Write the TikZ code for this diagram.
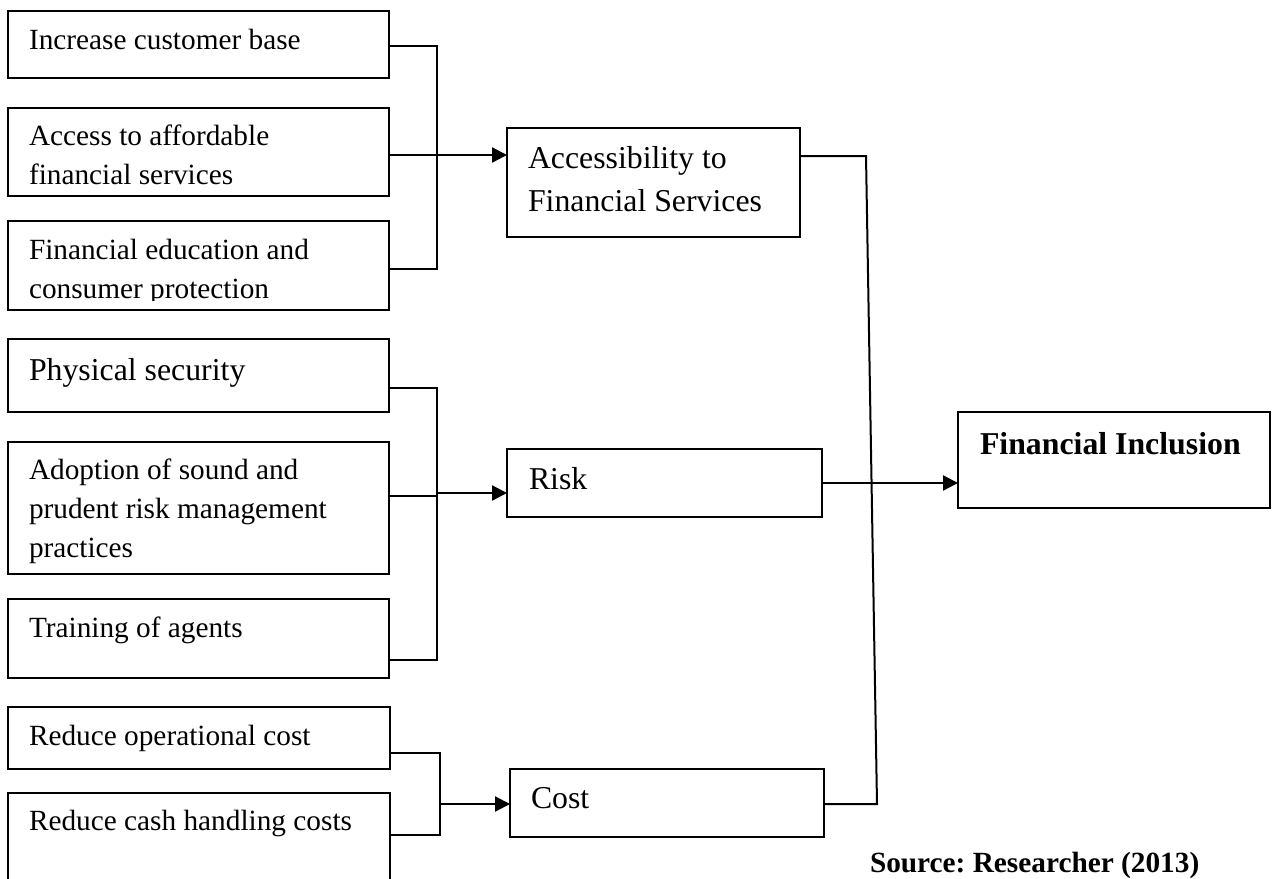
\documentclass[tikz,border=0pt]{standalone}
\usepackage{fontspec}
\setmainfont{Liberation Serif}
\usetikzlibrary{arrows.meta}
\frenchspacing
\newcommand{\mlines}[1]{\parbox[t]{420pt}{\raggedright #1}}
\tikzset{
  box/.style={draw, line width=2pt, rectangle, inner sep=0pt, outer sep=0pt, anchor=north west},
  txt/.style={anchor=base west, inner sep=0pt, outer sep=0pt},
  small/.style={font=\fontsize{29.3}{39}\selectfont\frenchspacing},
  big/.style={font=\fontsize{31.8}{43}\selectfont\frenchspacing},
  conn/.style={line width=2pt},
  arr/.style={line width=2.3pt, -{Triangle[length=15pt,width=15pt]}}
}
\begin{document}
\begin{tikzpicture}[x=1pt,y=-1pt]
\useasboundingbox (0,0) rectangle (1273,878);
\clip (0,0) rectangle (1273,878);
% left boxes
\node[box, minimum width=381pt, minimum height=67pt]  (b1) at (8,11) {};
\node[box, minimum width=381pt, minimum height=88pt]  (b2) at (8,108) {};
\node[box, minimum width=381pt, minimum height=89pt]  (b3) at (8,221) {};
\node[box, minimum width=381pt, minimum height=73pt]  (b4) at (8,339) {};
\node[box, minimum width=381pt, minimum height=132pt] (b5) at (8,442) {};
\node[box, minimum width=381pt, minimum height=79pt]  (b6) at (8,599) {};
\node[box, minimum width=382pt, minimum height=62pt]  (b7) at (8,707) {};
\node[box, minimum width=382pt, minimum height=110pt] (b8) at (8,793) {};
% middle and right boxes
\node[box, minimum width=293pt, minimum height=109pt] (acc)  at (507,128) {};
\node[box, minimum width=315pt, minimum height=68pt]  (risk) at (507,449) {};
\node[box, minimum width=314pt, minimum height=68pt]  (cost) at (510,769) {};
\node[box, minimum width=312pt, minimum height=96pt]  (fi)   at (958,412) {};
% texts
\node[txt, small] (t1) at (29,49) {Increase customer base};
\node[txt, small] (t2) at (29,145) {\mlines{Access to affordable\\financial services}};
\begin{scope}
\clip (0,0) rectangle (1273,300);
\node[txt, small] (t3) at (29,259) {\mlines{Financial education and\\consumer protection}};
\end{scope}
\node[txt, big]   (t4) at (29,380) {Physical security};
\node[txt, small] (t5) at (29,479) {\mlines{Adoption of sound and\\prudent risk management\\practices}};
\node[txt, small] (t6) at (29,637) {Training of agents};
\node[txt, small] (t7) at (29,745) {Reduce operational cost};
\node[txt, small] (t8) at (29,830) {Reduce cash handling costs};
\node[txt, big] (ta) at (528,168) {\mlines{Accessibility to\\Financial Services}};
\node[txt, big] (tr) at (529,489) {Risk};
\node[txt, big] (tc) at (531,808) {Cost};
\node[txt, big] (tf) at (980,454) {\bfseries Financial Inclusion};
\node[txt, small] (ts) at (870,872) {\bfseries Source: Researcher (2013)};
% bracket A
\coordinate (ja1) at (437,46);
\coordinate (ja2) at (437,155);
\coordinate (ja3) at (437,269);
\draw[conn] (b1.east |- ja1) -- (ja1) -- (ja3) -- (b3.east |- ja3);
\draw[arr] (b2.east |- ja2) -- (acc.west |- ja2);
% bracket R
\coordinate (jr1) at (437,388);
\coordinate (jr2) at (437,496);
\coordinate (jr3) at (437,660);
\coordinate (jr)  at (437,493);
\draw[conn] (b4.east |- jr1) -- (jr1) -- (jr3) -- (b6.east |- jr3);
\draw[conn] (b5.east |- jr2) -- (jr2);
\draw[arr] (jr) -- (risk.west |- jr);
% bracket C
\coordinate (jc1) at (440,753);
\coordinate (jc2) at (440,835);
\coordinate (jc)  at (440,804);
\draw[conn] (b7.east |- jc1) -- (jc1) -- (jc2) -- (b8.east |- jc2);
\draw[arr] (jc) -- (cost.west |- jc);
% big connector
\coordinate (k1) at (866,156);
\coordinate (k2) at (877,804);
\draw[conn] (acc.east |- k1) -- (k1) -- (k2) -- (cost.east |- k2);
\draw[arr] (risk.east) -- (fi.west |- risk.east);
\end{tikzpicture}
\end{document}
